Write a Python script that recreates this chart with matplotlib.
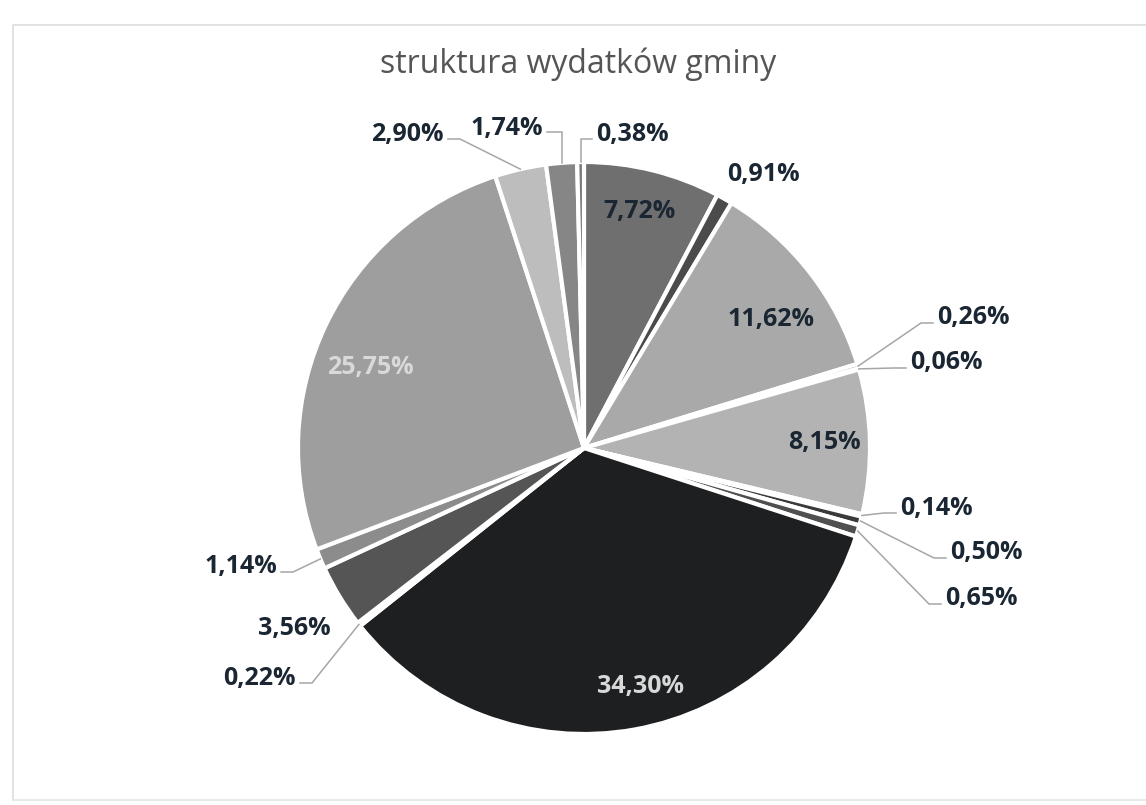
import numpy as np
import matplotlib.pyplot as plt

# shares of the budget, clockwise from 12 o'clock
values = [7.72, 0.91, 11.62, 0.26, 0.06, 8.15, 0.14, 0.50, 0.65,
          34.30, 0.22, 3.56, 1.14, 25.75, 2.90, 1.74, 0.38]
labels = [f"{v:.2f}%".replace(".", ",") for v in values]
colors = ['#6f6f6f', '#4b4b4b', '#a9a9a9', '#9a9a9a', '#8a8a8a', '#b3b3b3',
          '#2e2e2e', '#3a3a3a', '#505050', '#1d1f21', '#707070', '#555555',
          '#8c8c8c', '#9e9e9e', '#bdbdbd', '#868686', '#7a7a7a']
# labels drawn inside: text colour and a small nudge (px, top-left origin)
inside = {0: ('#1b2633', (-2, -6)), 2: ('#1b2633', (0, 18)),
          5: ('#1b2633', (3, 0)), 9: ('#d8d8d8', (14, 5)),
          13: ('#d9d9d9', (0, 22))}

# outside label layout: anchor x (text edge next to the line), centre y, side
outside = {
    1: (727, 175, 'left', False),
    3: (937, 318, 'left', True),
    4: (910, 363, 'left', True),
    6: (900, 508, 'left', True),
    7: (950, 553, 'left', True),
    8: (945, 599, 'left', True),
    10: (296, 678, 'right', True),
    11: (331, 628, 'right', False),
    12: (277, 567, 'right', True),
    14: (444, 134, 'right', True),
    15: (543, 128, 'right', True),
    16: (596, 135, 'left', True),
}

W, H = 1146, 805
cx, cy, R = 584, 448, 286
txt_col = '#1b2633'
fs = 18

plt.rcParams['font.family'] = ['Open Sans', 'DejaVu Sans']
fig = plt.figure(figsize=(W / 100, H / 100), dpi=100)
ax = fig.add_axes([0, 0, 1, 1])

# faint frame of the chart area
ax.plot([13, 13, W], [H - 800, H - 25, H - 25], color='#dddddd', lw=1.2)
ax.plot([13, W], [H - 800, H - 800], color='#e6e6e6', lw=1.2)

wedges, _ = ax.pie(values, colors=colors, startangle=90, counterclock=False,
                   center=(cx, H - cy), radius=R,
                   wedgeprops=dict(edgecolor='white', linewidth=3))
ax.set_xlim(0, W)
ax.set_ylim(0, H)
ax.set_aspect('equal')
ax.axis('off')

ax.text(578, H - 64, 'struktura wydatków gminy', ha='center', va='center',
        fontsize=23, color='#555555')

for i, w in enumerate(wedges):
    ang = np.deg2rad((w.theta1 + w.theta2) / 2)
    if i in inside:
        col, (dx, dy) = inside[i]
        r = 0.83 * R
        ax.text(cx + r * np.cos(ang) + dx, H - cy + r * np.sin(ang) - dy,
                labels[i], ha='center', va='center', fontsize=fs,
                fontweight='bold', color=col)
        continue
    ax_x, ty, side, line = outside[i]
    ax.text(ax_x, H - ty, labels[i], ha=side, va='center', fontsize=fs,
            fontweight='bold', color=txt_col)
    if not line:
        continue
    ex, ey = cx + R * np.cos(ang), H - cy + R * np.sin(ang)
    d = -1 if side == 'left' else 1
    endx = ax_x + d * 4
    ly = H - ty - 5
    elbowx = endx + d * 12
    if i in (15, 16):
        elbowx = ex
        ly = H - ty - 4
    ax.plot([ex, elbowx, endx], [ey, ly, ly], color='#a6a6a6', lw=1.1)

fig.savefig('out.png', dpi=100)
